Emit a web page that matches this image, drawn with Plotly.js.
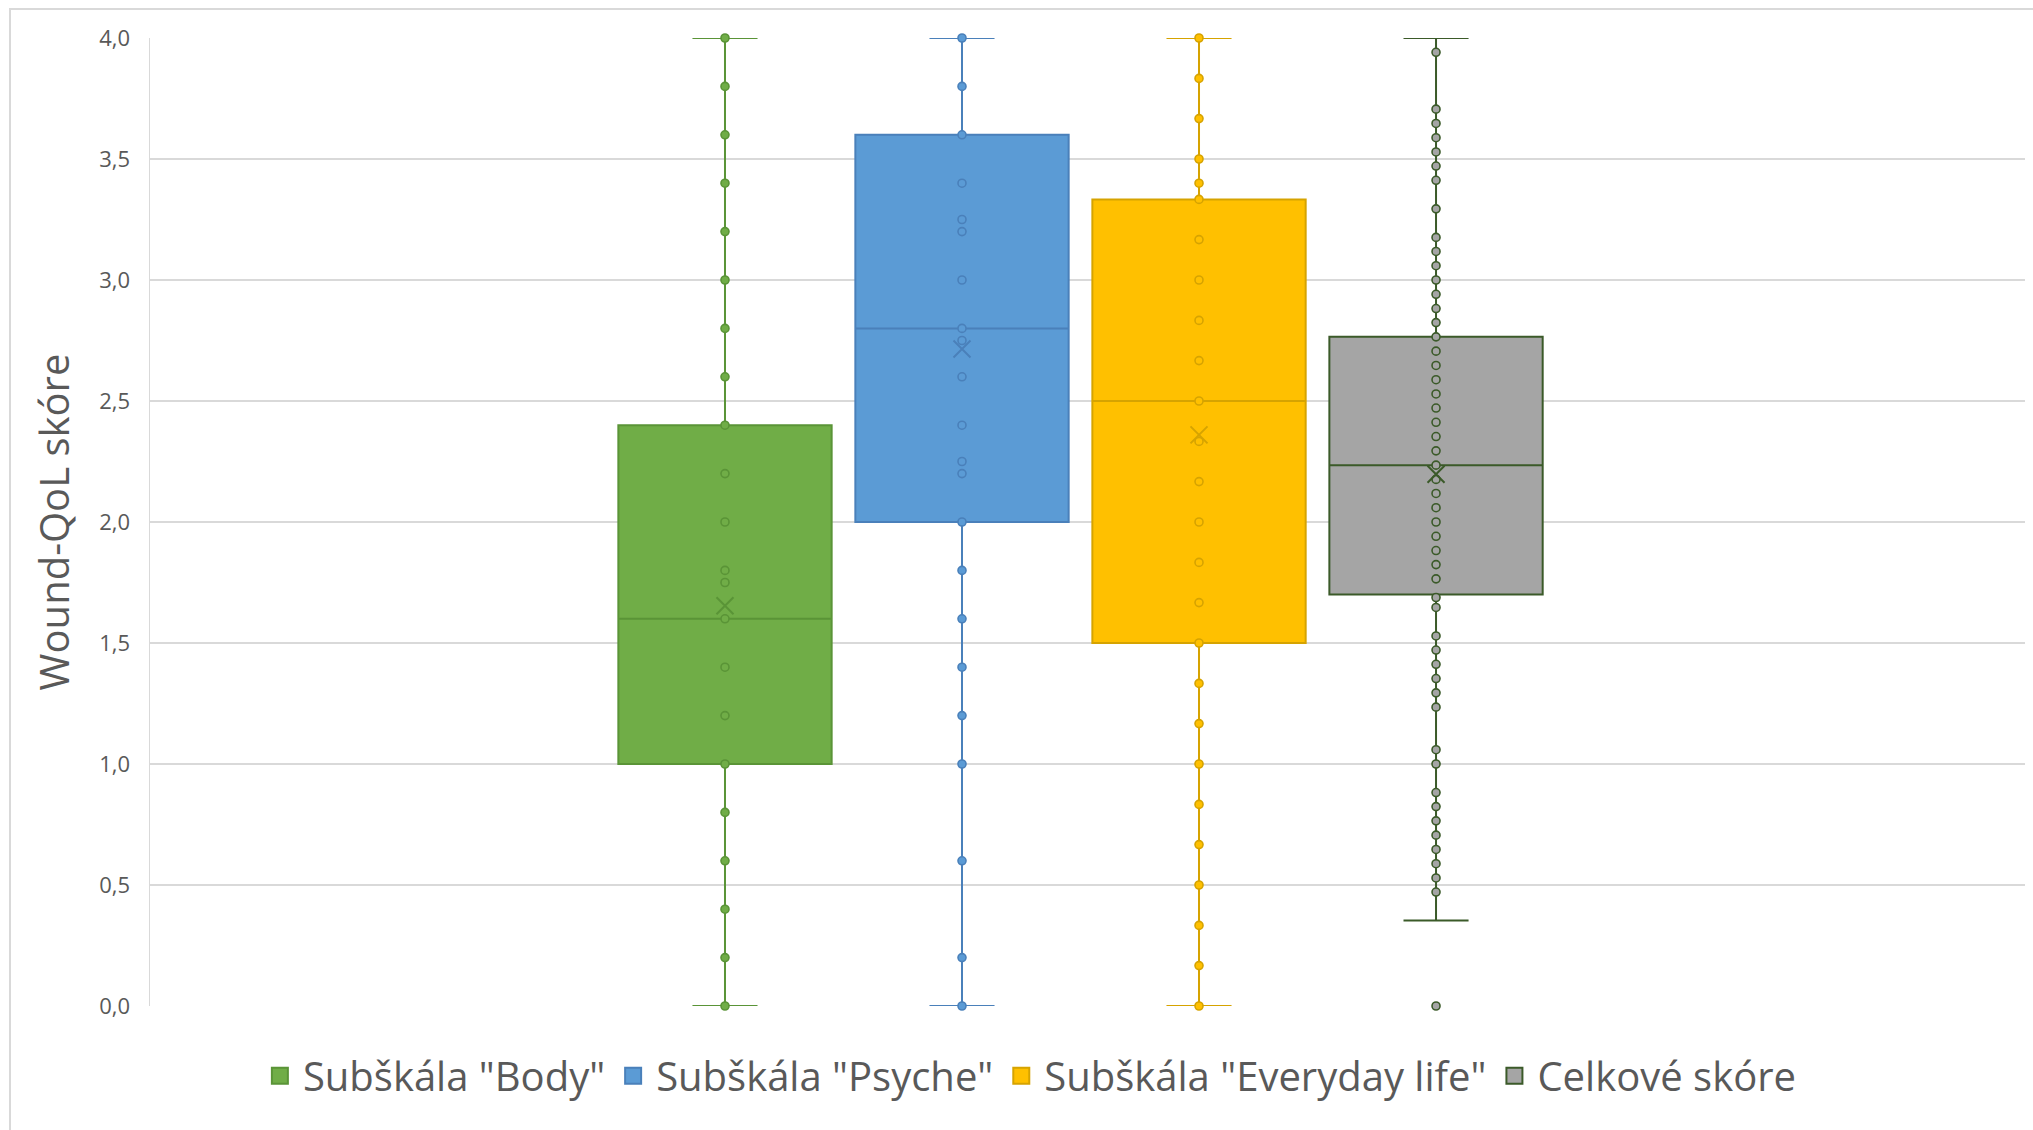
<!DOCTYPE html>
<html>
<head>
<meta charset="utf-8">
<script src="https://cdn.plot.ly/plotly-3.0.1.min.js"></script>
<style>
  html, body { margin: 0; padding: 0; background: #ffffff; overflow: hidden; }
  #chart { position: absolute; left: 0; top: 0; width: 2033px; height: 1130px; }
  #frame { position: absolute; left: 9px; top: 8px; width: 2100px; height: 1200px;
           border: 2px solid #D9D9D9; pointer-events: none; box-sizing: border-box; }
</style>
</head>
<body>
<div id="chart"></div>
<div id="frame"></div>
<script>
// ---- data ----
const seriesNames = ['Subškála "Body"', 'Subškála "Psyche"', 'Subškála "Everyday life"', 'Celkové skóre'];
const q1Values     = [1.0, 2.0, 1.5, 1.70];
const medianValues = [1.6, 2.8, 2.5, 2.235];
const q3Values     = [2.4, 3.6, 3.333, 2.765];
const lowerWhisker = [0, 0, 0, 0.353];
const upperWhisker = [4, 4, 4, 4];
const meanValues   = [1.654, 2.715, 2.36, 2.197];

const bodyPoints = [0, 0.2, 0.4, 0.6, 0.8, 1.0, 1.2, 1.4, 1.6, 1.75, 1.8, 2.0, 2.2, 2.4, 2.6, 2.8, 3.0, 3.2, 3.4, 3.6, 3.8, 4.0];
const psychePoints = [0, 0.2, 0.6, 1.0, 1.2, 1.4, 1.6, 1.8, 2.0, 2.2, 2.25, 2.4, 2.6, 2.75, 2.8, 3.0, 3.2, 3.25, 3.4, 3.6, 3.8, 4.0];
const everydayPoints = [0, 0.167, 0.333, 0.5, 0.667, 0.833, 1.0, 1.167, 1.333, 1.5, 1.667, 1.833, 2.0, 2.167, 2.333, 2.5, 2.667, 2.833, 3.0, 3.167, 3.333, 3.4, 3.5, 3.667, 3.833, 4.0];
const totalPoints = [0, 0.471, 0.529, 0.588, 0.647, 0.706, 0.765, 0.824, 0.882, 1.0, 1.059, 1.235, 1.294, 1.353, 1.412, 1.471, 1.529, 1.647, 1.688, 1.765, 1.824, 1.882, 1.941, 2.0, 2.059, 2.118, 2.176, 2.235, 2.294, 2.353, 2.412, 2.471, 2.529, 2.588, 2.647, 2.706, 2.765, 2.824, 2.882, 2.941, 3.0, 3.059, 3.118, 3.176, 3.294, 3.412, 3.471, 3.529, 3.588, 3.647, 3.706, 3.941];
const yTickValues = [0, 0.5, 1.0, 1.5, 2.0, 2.5, 3.0, 3.5, 4.0];

// ---- styles ----
const pointSets = [bodyPoints, psychePoints, everydayPoints, totalPoints];
const fillColors = ['#70AD47', '#5B9BD5', '#FFC000', '#A5A5A5'];
const lineColors = ['#5A9437', '#4A80BA', '#D6A300', '#3B5A29'];
const FONT = '"Open Sans", "Noto Sans", sans-serif';

const traces = [];
seriesNames.forEach((name, i) => {
  traces.push({
    type: 'box',
    orientation: 'v',
    name: name,
    x: [name],
    q1: [q1Values[i]],
    median: [medianValues[i]],
    q3: [q3Values[i]],
    lowerfence: [lowerWhisker[i]],
    upperfence: [upperWhisker[i]],
    width: 0.9,
    boxpoints: false,
    fillcolor: fillColors[i],
    line: { color: lineColors[i], width: 2 },
    whiskerwidth: 0.305,
    showlegend: false,
    hoverinfo: 'skip'
  });
});
seriesNames.forEach((name, i) => {
  traces.push({
    type: 'scatter',
    mode: 'markers',
    x: pointSets[i].map(() => name),
    y: pointSets[i],
    cliponaxis: false,
    marker: { size: 8, color: fillColors[i], line: { color: lineColors[i], width: 1.6 } },
    showlegend: false,
    hoverinfo: 'y'
  });
  traces.push({
    type: 'scatter',
    mode: 'markers',
    x: [name],
    y: [meanValues[i]],
    cliponaxis: false,
    marker: { symbol: 'x-thin-open', size: 17, color: lineColors[i], line: { color: lineColors[i], width: 2 } },
    showlegend: false,
    hoverinfo: 'y'
  });
});
// legend entries (square swatches, as in the original legend)
seriesNames.forEach((name, i) => {
  traces.push({
    type: 'scatter',
    mode: 'markers',
    name: name,
    x: [null],
    y: [null],
    marker: { symbol: 'square', size: 16, color: fillColors[i], line: { color: lineColors[i], width: 2 } },
    showlegend: true,
    hoverinfo: 'skip'
  });
});

const layout = {
  width: 2033,
  height: 1130,
  margin: { l: 150, r: 8, t: 38, b: 124, pad: 0 },
  paper_bgcolor: 'rgba(0,0,0,0)',
  plot_bgcolor: '#ffffff',
  separators: ', ',
  boxmode: 'overlay',
  boxgap: 0.1,
  showlegend: true,
  font: { family: FONT, color: '#595959' },
  xaxis: {
    type: 'category',
    categoryorder: 'array',
    categoryarray: seriesNames,
    range: [-2.426, 5.485],
    showgrid: false,
    zeroline: false,
    showticklabels: false,
    showline: false,
    ticks: '',
    fixedrange: true
  },
  yaxis: {
    range: [0, 4],
    tickvals: yTickValues,
    tickformat: '.1f',
    showgrid: true,
    gridcolor: '#D9D9D9',
    gridwidth: 1.5,
    zeroline: false,
    showline: true,
    linecolor: '#D9D9D9',
    linewidth: 1.5,
    ticks: '',
    ticklabelstandoff: 14,
    tickfont: { family: FONT, size: 22, color: '#595959' },
    title: { text: 'Wound-QoL skóre', font: { family: FONT, size: 40, color: '#595959' }, standoff: 17 },
    automargin: false,
    fixedrange: true
  },
  legend: {
    orientation: 'h',
    x: 0.469,
    xanchor: 'center',
    y: -0.072,
    yanchor: 'middle',
    itemwidth: 36,
    font: { family: FONT, size: 40, color: '#595959' },
    bgcolor: 'rgba(0,0,0,0)',
    itemclick: false,
    itemdoubleclick: false
  }
};

Plotly.newPlot('chart', traces, layout, { displayModeBar: false, staticPlot: true });
</script>
</body>
</html>
